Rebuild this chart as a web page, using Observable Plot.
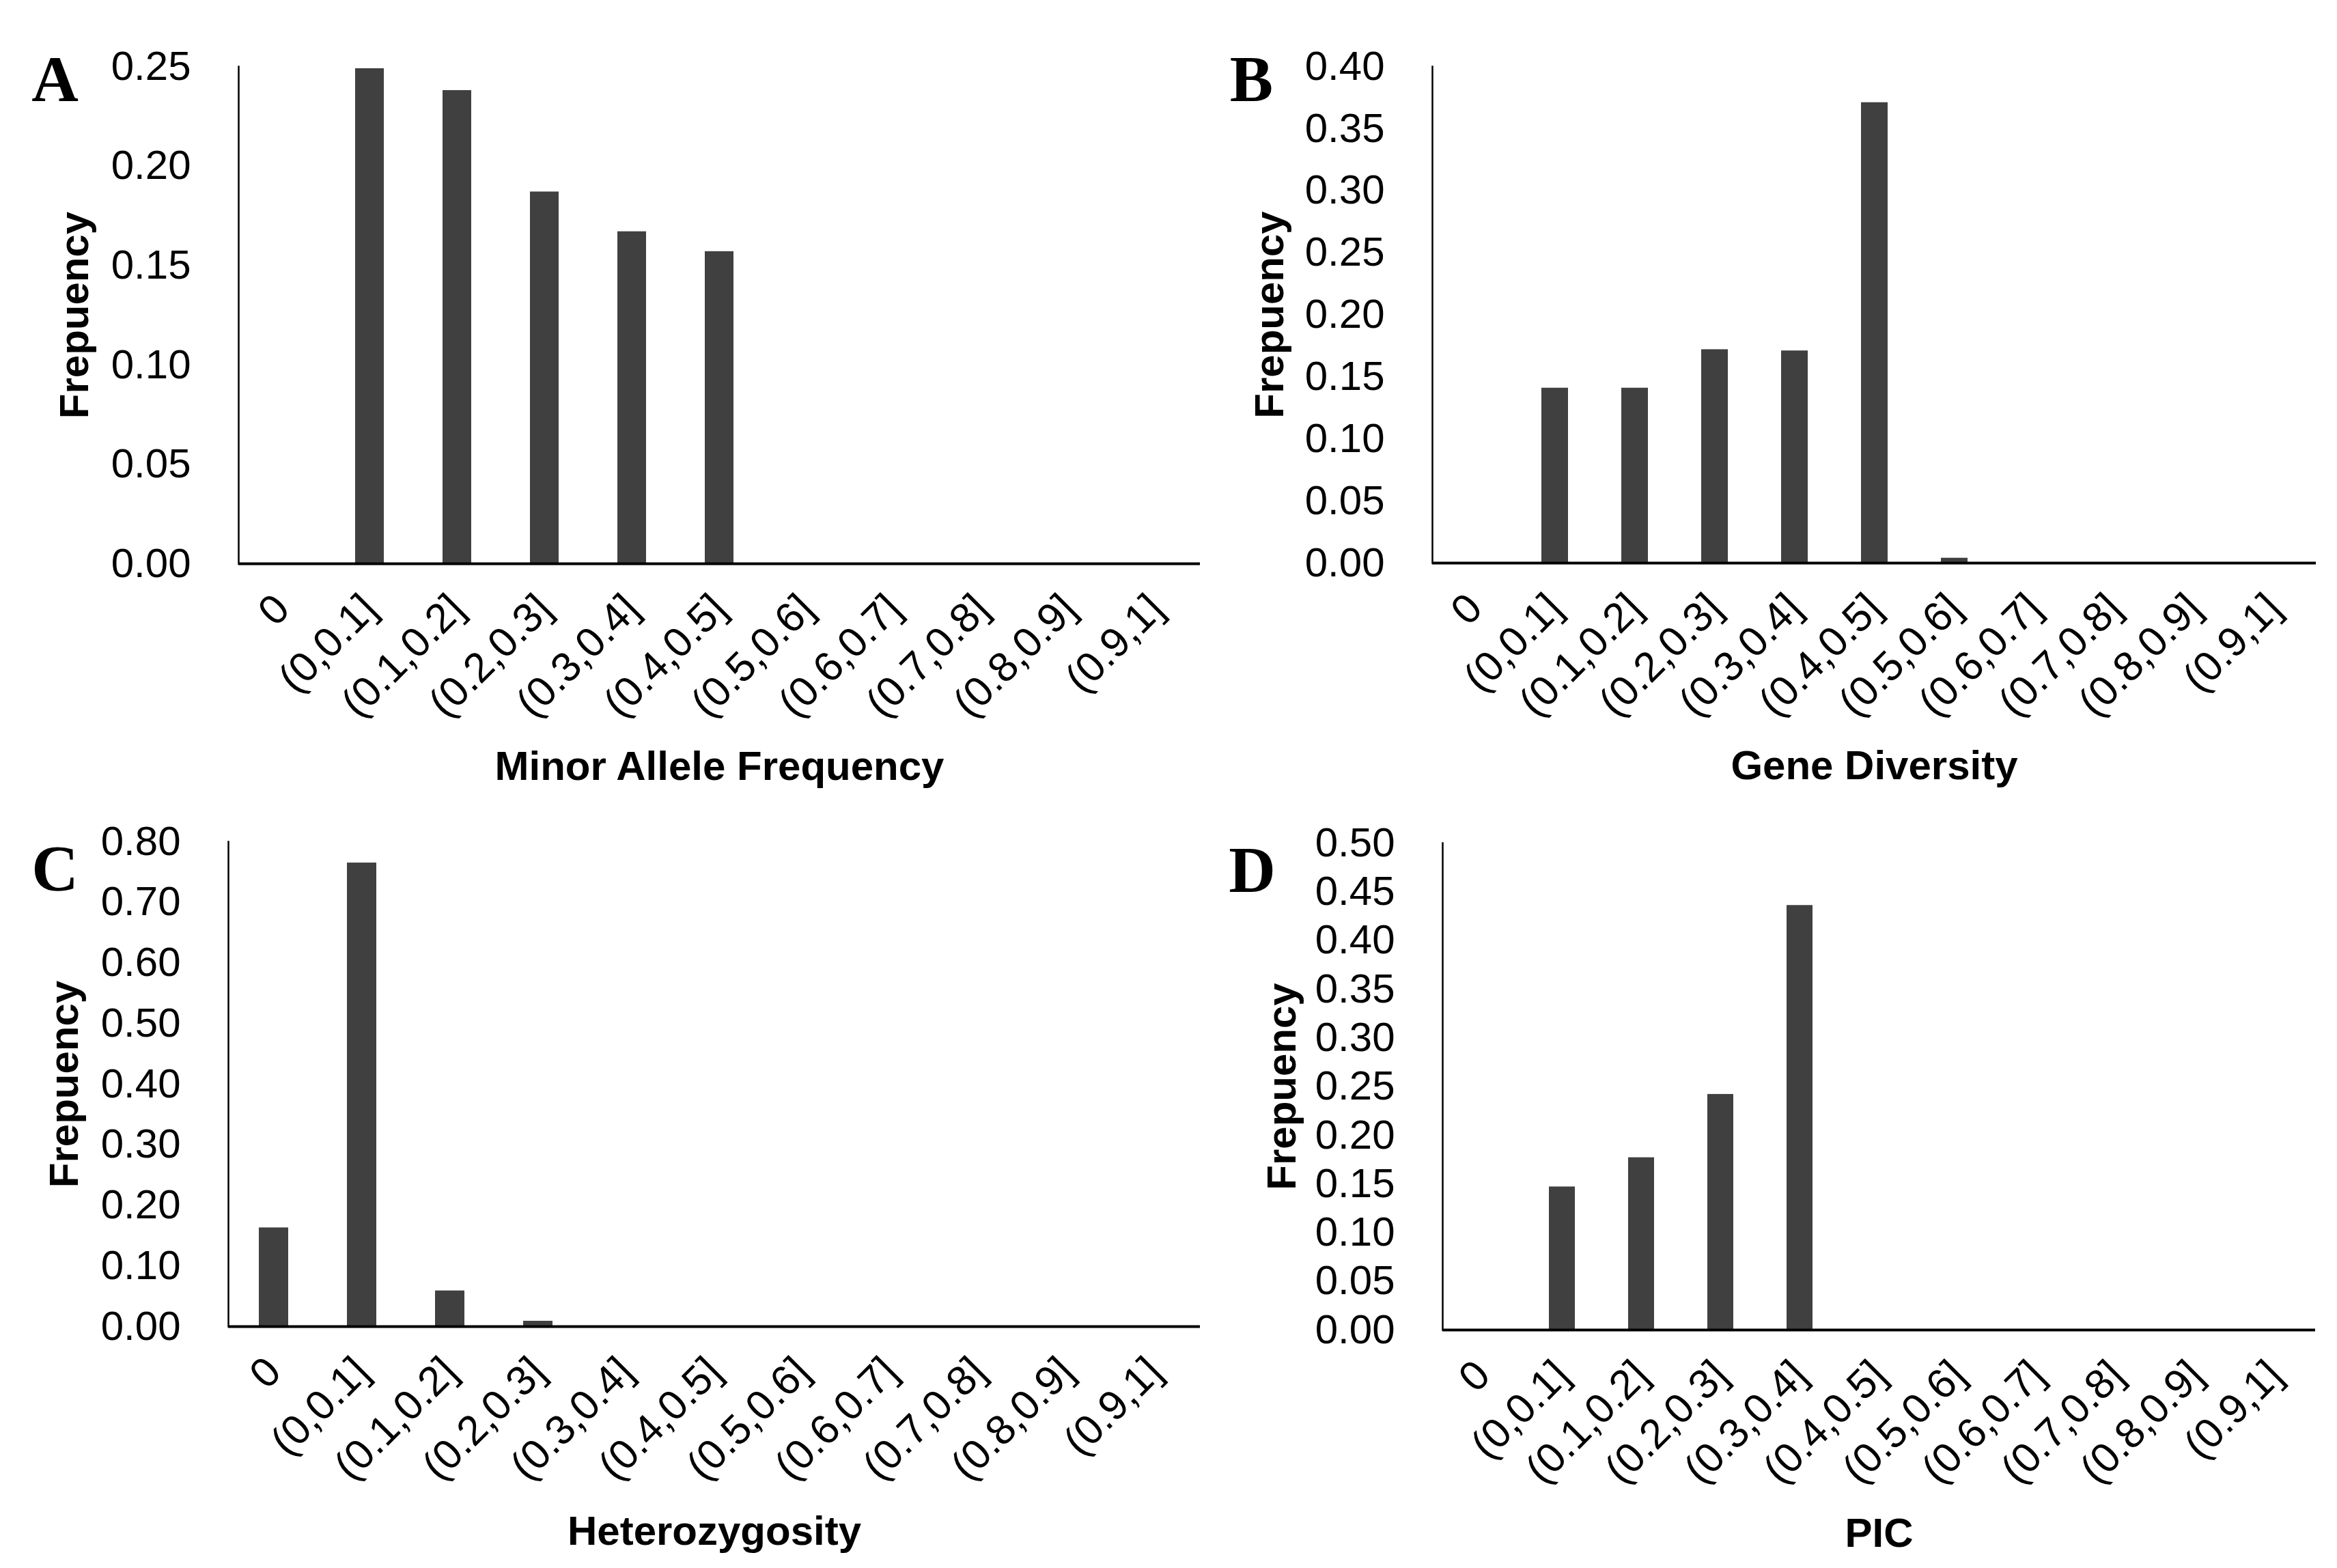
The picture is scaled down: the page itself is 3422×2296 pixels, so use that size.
<!DOCTYPE html>
<html>
<head>
<meta charset="utf-8">
<script src="https://cdn.jsdelivr.net/npm/d3@7"></script>
<script src="https://cdn.jsdelivr.net/npm/@observablehq/plot@0.6"></script>
<style>
  html, body { margin: 0; padding: 0; background: #ffffff; }
  #root { position: relative; width: 3422px; height: 2296px; background: #ffffff; overflow: hidden; }
  .panel { position: absolute; }
</style>
</head>
<body>
<div id="root"></div>
<script>
// ---------- data ----------
const categories = ["0", "(0,0.1]", "(0.1,0.2]", "(0.2,0.3]", "(0.3,0.4]", "(0.4,0.5]",
                    "(0.5,0.6]", "(0.6,0.7]", "(0.7,0.8]", "(0.8,0.9]", "(0.9,1]"];
const mafValues     = [0, 0.249, 0.238, 0.187, 0.167, 0.157, 0, 0, 0, 0, 0];
const geneDivValues = [0, 0.141, 0.141, 0.172, 0.171, 0.371, 0.004, 0, 0, 0, 0];
const hetValues     = [0.163, 0.765, 0.059, 0.009, 0, 0, 0, 0, 0, 0, 0];
const picValues     = [0, 0.147, 0.177, 0.242, 0.436, 0, 0, 0, 0, 0, 0];

const ticksA = [0, 0.05, 0.10, 0.15, 0.20, 0.25];
const ticksB = [0, 0.05, 0.10, 0.15, 0.20, 0.25, 0.30, 0.35, 0.40];
const ticksC = [0, 0.10, 0.20, 0.30, 0.40, 0.50, 0.60, 0.70, 0.80];
const ticksD = [0, 0.05, 0.10, 0.15, 0.20, 0.25, 0.30, 0.35, 0.40, 0.45, 0.50];

const yTitle = "Frepuency";
const xTitles = ["Minor Allele Frequency", "Gene Diversity", "Heterozygosity", "PIC"];
const letters = ["A", "B", "C", "D"];

// ---------- drawing ----------
const SANS = "Arial, 'Liberation Sans', Helvetica, sans-serif";
const SERIF = "'Times New Roman', 'Liberation Serif', serif";
const BAR = "#404040";

function panel(cfg) {
  const data = categories.map((c, i) => ({category: c, value: cfg.values[i]}));
  return Plot.plot({
    width: cfg.width,
    height: cfg.height,
    marginLeft: cfg.ml, marginRight: cfg.mr, marginTop: cfg.mt, marginBottom: cfg.mb,
    style: {fontFamily: SANS, background: "white", overflow: "visible", color: "black"},
    x: {domain: categories, paddingInner: 0.67, paddingOuter: 0.335, align: 0.5},
    y: {domain: [0, cfg.yMax]},
    marks: [
      Plot.barY(data, {x: "category", y: "value", fill: BAR}),
      Plot.axisY({ticks: cfg.ticks, tickFormat: d => d.toFixed(2), tickSize: 0, tickPadding: 70,
                  fontSize: 60, label: null}),
      Plot.axisX({tickRotate: -45, tickSize: 0, tickPadding: 56, fontSize: 61, label: null}),
      Plot.frame({anchor: "left", stroke: "black", strokeWidth: 2.5}),
      Plot.ruleY([0], {stroke: "black", strokeWidth: 4}),
      Plot.text([yTitle], {text: d => d, frameAnchor: "left", dx: cfg.ytDx, rotate: -90,
                           textAnchor: "middle", lineAnchor: "middle",
                           fontSize: 60, fontWeight: "bold", fill: "black"}),
      Plot.text([cfg.xTitle], {text: d => d, frameAnchor: "bottom", dy: cfg.xtDy,
                               textAnchor: "middle", lineAnchor: "middle",
                               fontSize: 60, fontWeight: "bold", fill: "black"}),
      Plot.text([cfg.letter], {text: d => d, frameAnchor: "top-left", dx: cfg.lDx, dy: cfg.lDy,
                               textAnchor: "middle", lineAnchor: "middle",
                               fontSize: 95, fontWeight: "bold", fontFamily: SERIF, fill: "black"})
    ]
  });
}

const layout = [
  {left: 0,    top: 0,    width: 1760, height: 1160, ml: 349, mr: 3,  mt: 97, mb: 335,
   values: mafValues, yMax: 0.25, ticks: ticksA, ytDx: -240, xtDy: 297, lDx: -269, lDy: 20},
  {left: 1760, top: 0,    width: 1662, height: 1160, ml: 337, mr: 31, mt: 97, mb: 336,
   values: geneDivValues, yMax: 0.40, ticks: ticksB, ytDx: -238, xtDy: 297, lDx: -265, lDy: 20},
  {left: 0,    top: 1160, width: 1760, height: 1136, ml: 334, mr: 3,  mt: 72, mb: 354,
   values: hetValues, yMax: 0.80, ticks: ticksC, ytDx: -240, xtDy: 300, lDx: -254, lDy: 41},
  {left: 1760, top: 1160, width: 1662, height: 1136, ml: 352, mr: 32, mt: 74, mb: 349,
   values: picValues, yMax: 0.50, ticks: ticksD, ytDx: -235, xtDy: 298, lDx: -279, lDy: 41}
];

const root = document.getElementById("root");
layout.forEach((cfg, i) => {
  const wrap = document.createElement("div");
  wrap.className = "panel";
  wrap.style.left = cfg.left + "px";
  wrap.style.top = cfg.top + "px";
  wrap.appendChild(panel({...cfg, xTitle: xTitles[i], letter: letters[i]}));
  root.appendChild(wrap);
});
</script>
</body>
</html>
